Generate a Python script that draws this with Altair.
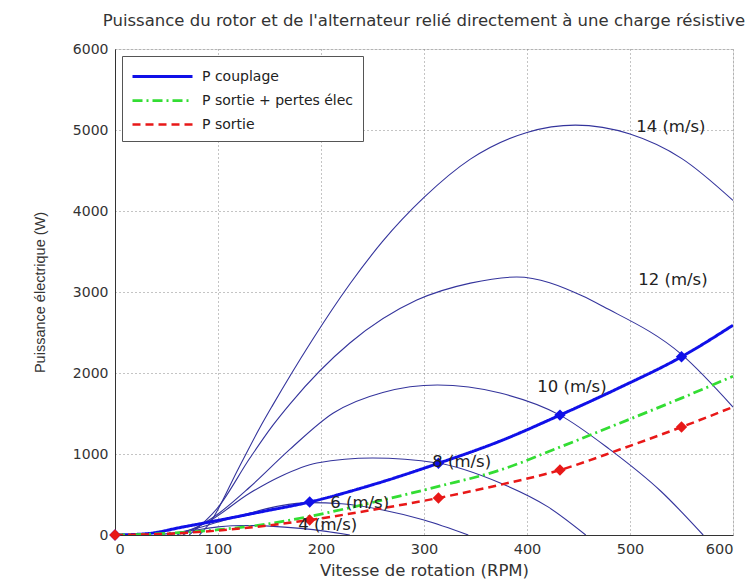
import altair as alt
import pandas as pd

# ---- data ----
speeds = ["4", "6", "8", "10", "12", "14"]
rpm_4 = [40, 70, 100, 125, 150, 180, 205, 228]
pw_4 = [0, 45, 100, 118, 110, 82, 45, 0]
rpm_6 = [52, 80, 100, 131, 160, 189, 220, 260, 300, 343]
pw_6 = [0, 85, 160, 271, 360, 400, 385, 309, 185, 0]
rpm_8 = [60, 90, 131, 160, 196, 250, 313, 374, 420, 457]
pw_8 = [0, 160, 518, 720, 889, 950, 889, 642, 350, 0]
rpm_10 = [66, 100, 131, 170, 212, 260, 313, 374, 432, 480, 530, 571]
pw_10 = [0, 260, 593, 1060, 1506, 1760, 1852, 1753, 1480, 1060, 540, 0]
rpm_12 = [72, 100, 131, 153, 170, 228, 293, 345, 390, 454, 474, 550, 600]
pw_12 = [0, 340, 950, 1350, 1620, 2370, 2900, 3110, 3185, 2950, 2820, 2230, 1580]
rpm_14 = [82, 92, 120, 141, 153, 190, 228, 260, 300, 345, 400, 447, 500, 550, 600]
pw_14 = [0, 148, 825, 1333, 1600, 2377, 3099, 3627, 4167, 4640, 4970, 5060, 4950, 4650, 4130]

rpm_coupl = [0, 30, 66, 100, 141, 189, 250, 314, 374, 432, 490, 550, 600]
pw_coupl = [0, 15, 99, 180, 284, 407, 620, 885, 1160, 1480, 1820, 2200, 2590]
rpm_green = [0, 50, 100, 150, 189, 260, 314, 374, 432, 490, 550, 600]
pw_green = [0, 20, 65, 140, 230, 432, 600, 802, 1085, 1380, 1690, 1960]
rpm_red = [0, 50, 100, 150, 189, 250, 314, 374, 432, 490, 550, 600]
pw_red = [0, 15, 55, 120, 185, 310, 457, 620, 802, 1055, 1333, 1580]

mark_rpm_blue = [0, 189, 314, 432, 550]
mark_pw_blue = [0, 407, 885, 1480, 2200]
mark_rpm_red = [0, 189, 314, 432, 550]
mark_pw_red = [0, 185, 457, 802, 1333]

lab_text = ["14 (m/s)", "12 (m/s)", "10 (m/s)", "8 (m/s)", "6 (m/s)", "4 (m/s)"]
lab_rpm = [506, 508, 410, 308, 209, 178]
lab_pw = [5040, 3150, 1830, 900, 395, 120]

series_names = ["P couplage", "P sortie + pertes élec", "P sortie"]
series_colors = ["#1010e8", "#33dd33", "#e81818"]

# ---- build tables ----
rotor_rows = []
for s, r, p in zip(speeds,
                   [rpm_4, rpm_6, rpm_8, rpm_10, rpm_12, rpm_14],
                   [pw_4, pw_6, pw_8, pw_10, pw_12, pw_14]):
    for i, (a, b) in enumerate(zip(r, p)):
        rotor_rows.append({"v": s, "rpm": a, "P": b, "o": i})
rotor = pd.DataFrame(rotor_rows)

ser_rows = []
for name, r, p in zip(series_names, [rpm_coupl, rpm_green, rpm_red],
                      [pw_coupl, pw_green, pw_red]):
    for i, (a, b) in enumerate(zip(r, p)):
        ser_rows.append({"series": name, "rpm": a, "P": b, "o": i})
ser = pd.DataFrame(ser_rows)

mk = pd.DataFrame(
    [{"rpm": a, "P": b, "col": series_colors[0], "k": 0} for a, b in zip(mark_rpm_blue, mark_pw_blue)]
    + [{"rpm": a, "P": b, "col": series_colors[2], "k": 1} for a, b in zip(mark_rpm_red, mark_pw_red)]
)
labs = pd.DataFrame({"t": lab_text, "rpm": lab_rpm, "P": lab_pw})

FONT = "DejaVu Sans"
FONT2 = "Liberation Sans"
xs = alt.Scale(domain=[0, 600], nice=False)
ys = alt.Scale(domain=[0, 6000], nice=False)

xax = alt.Axis(title="Vitesse de rotation (RPM)", values=list(range(0, 601, 100)), format="d",
               grid=True, gridDash=[1, 3], gridColor="#888", ticks=False,
               labelPadding=7, titlePadding=7, labelFontSize=14.5, titleFontSize=16.5,
               labelFont=FONT, titleFont=FONT, titleFontWeight="normal",
               domainColor="#333", labelColor="#333", titleColor="#333")
yax = alt.Axis(title="Puissance électrique (W)", values=list(range(0, 6001, 1000)), format="d",
               grid=True, gridDash=[1, 3], gridColor="#888", ticks=False,
               labelPadding=7, titlePadding=25, labelFontSize=14, titleFontSize=14.5,
               labelFont=FONT, titleFont=FONT2, titleFontWeight="normal",
               domainColor="#333", labelColor="#333", titleColor="#333")

base_x = alt.X("rpm:Q", scale=xs, axis=xax)
base_y = alt.Y("P:Q", scale=ys, axis=yax)

rotor_layer = alt.Chart(rotor).mark_line(clip=True, interpolate="monotone", strokeWidth=1.1).encode(
    x=base_x, y=base_y, detail="v:N", order="o:Q", color=alt.value("#34349c"))

ser_layer = alt.Chart(ser).mark_line(clip=True, interpolate="monotone").encode(
    x=alt.X("rpm:Q", scale=xs), y=alt.Y("P:Q", scale=ys), order="o:Q",
    color=alt.Color("series:N", scale=alt.Scale(domain=series_names, range=series_colors),
                    sort=series_names,
                    legend=alt.Legend(title=None, orient="top-left", offset=7, padding=9,
                                      fillColor="white", strokeColor="#555",
                                      symbolType="M-1,0H5", symbolSize=400,
                                      symbolStrokeWidth=2.5, labelFontSize=14,
                                      labelFont=FONT, labelColor="#222", rowPadding=5,
                                      labelOffset=48)),
    strokeDash=alt.StrokeDash("series:N",
                              scale=alt.Scale(domain=series_names,
                                              range=[[1, 0], [10, 4, 2, 4], [8, 5]]),
                              sort=series_names),
    strokeWidth=alt.StrokeWidth("series:N",
                                scale=alt.Scale(domain=series_names, range=[3, 2.5, 2.5]),
                                legend=None),
)

mk_layer = alt.Chart(mk).mark_point(shape="diamond", filled=True, size=130, opacity=1).encode(
    x=alt.X("rpm:Q", scale=xs), y=alt.Y("P:Q", scale=ys),
    color=alt.Color("col:N", scale=None), order="k:Q")

lab_layer = alt.Chart(labs).mark_text(align="left", baseline="middle", fontSize=16.5,
                                      font=FONT, color="#222").encode(
    x=alt.X("rpm:Q", scale=xs), y=alt.Y("P:Q", scale=ys), text="t:N")

chart = alt.layer(rotor_layer, ser_layer, mk_layer, lab_layer).properties(
    width=618, height=486,
    padding={"left": 115, "top": 49, "right": 16, "bottom": 53},
    autosize="none",
    title=alt.TitleParams(
        text="Puissance du rotor et de l'alternateur relié directement à une charge résistive",
        anchor="middle", offset=13, fontSize=16.5, fontWeight="normal", font=FONT,
        color="#333"),
).configure_view(stroke=None).configure(background="white")

chart.save("out.html", embed_options={"renderer": "svg", "actions": False})
